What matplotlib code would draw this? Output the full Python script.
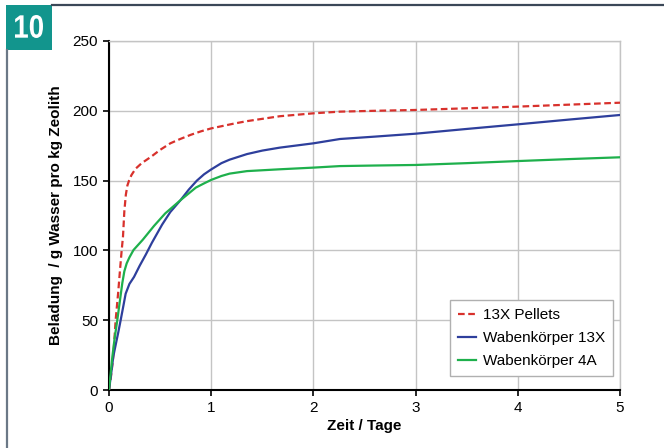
import matplotlib
matplotlib.use('Agg')
import matplotlib.pyplot as plt
from matplotlib.patches import Rectangle, PathPatch
from matplotlib.lines import Line2D
from matplotlib.textpath import TextPath
from matplotlib.font_manager import FontProperties
from matplotlib.transforms import Affine2D, IdentityTransform

plt.rcParams['font.family'] = ['Liberation Sans', 'DejaVu Sans']

# values (Zeit in Tagen, Beladung in g/kg)
pellets_t = [0, 0.02, 0.042, 0.065, 0.09, 0.11, 0.124, 0.137, 0.15, 0.165, 0.18, 0.196,
             0.22, 0.26, 0.32, 0.41, 0.50, 0.60, 0.69, 0.80, 0.90, 1.0, 1.22, 1.35, 1.67,
             2.0, 2.26, 2.6, 3.0, 3.5, 4.0, 4.5, 5.0]
pellets = [0, 10, 24, 50, 70, 88, 100, 110, 128, 140, 146.5, 150,
           154, 158.5, 162.5, 167, 172, 176.7, 179.6, 182.8, 185.3, 187.4, 190.8, 192.6, 196.1,
           198.2, 199.4, 200, 200.6, 201.8, 203, 204.4, 205.8]

waben13x_t = [0, 0.02, 0.042, 0.07, 0.09, 0.114, 0.14, 0.163, 0.2, 0.245, 0.30, 0.36, 0.42,
              0.52, 0.60, 0.70, 0.78, 0.86, 0.93, 1.0, 1.1, 1.18, 1.35, 1.5, 1.67, 2.0, 2.26,
              2.6, 3.0, 3.5, 4.0, 4.5, 5.0]
waben13x = [0, 11, 24, 34, 41, 50, 60, 69, 76, 81, 89, 97, 105.5,
            118.5, 127.5, 136, 143.5, 150, 154.5, 158, 162.5, 165, 169, 171.5, 173.6, 176.7,
            179.8, 181.5, 183.6, 187, 190.3, 193.7, 197]

waben4a_t = [0, 0.015, 0.033, 0.055, 0.081, 0.105, 0.13, 0.15, 0.173, 0.2, 0.24, 0.33, 0.44,
             0.55, 0.70, 0.85, 0.93, 1.0, 1.1, 1.18, 1.35, 1.67, 2.0, 2.26, 2.6, 3.0, 3.5,
             4.0, 4.5, 5.0]
waben4a = [0, 11, 24, 37, 50, 63, 76.5, 85, 90.7, 95, 100.3, 107.6, 117.5,
           126.5, 136, 145, 148, 150.5, 153.3, 155, 156.8, 158.1, 159.3, 160.4, 160.8, 161.2,
           162.5, 164, 165.4, 166.7]

labels = ['13X Pellets', 'Wabenkörper 13X', 'Wabenkörper 4A']
x_ticks = [0, 1, 2, 3, 4, 5]
y_ticks = [0, 50, 100, 150, 200, 250]
badge = '10'

RED = '#d8312c'
BLUE = '#2e3f9c'
GREEN = '#1eb04c'
TEAL = '#12958d'

W, H = 664, 448
fig = plt.figure(figsize=(W / 100, H / 100), dpi=100)
ax = fig.add_axes([109 / W, 1 - 390 / H, (620 - 109) / W, (390 - 41) / H])

ax.plot(pellets_t, pellets, color=RED, lw=1.6, ls=(0, (3, 1.6)), label=labels[0], zorder=3)
ax.plot(waben13x_t, waben13x, color=BLUE, lw=1.6, label=labels[1], zorder=3)
ax.plot(waben4a_t, waben4a, color=GREEN, lw=1.6, label=labels[2], zorder=3)

ax.set_xlim(0, 5)
ax.set_ylim(0, 250)
ax.set_xticks(x_ticks)
ax.set_yticks(y_ticks)
ax.grid(True, color='#c4c4c4', lw=1.0)
ax.set_axisbelow(True)

for side in ('top', 'right'):
    ax.spines[side].set_color('#c4c4c4')
    ax.spines[side].set_linewidth(1.0)
for side in ('left', 'bottom'):
    ax.spines[side].set_color('black')
    ax.spines[side].set_linewidth(1.5)

ax.tick_params(direction='out', length=4, width=1.2, labelsize=11, pad=4)
ax.set_xlabel('Zeit / Tage', fontsize=11, fontweight='bold', labelpad=3)
ax.set_ylabel('Beladung  / g Wasser pro kg Zeolith', fontsize=11, fontweight='bold', labelpad=7)

leg = ax.legend(loc='lower right', bbox_to_anchor=(0.986, 0.04), fontsize=11,
                frameon=True, fancybox=False, edgecolor='#b0b0b0', framealpha=1,
                handlelength=1.2, handletextpad=0.45, borderpad=0.5, labelspacing=0.6,
                borderaxespad=0)
leg.get_frame().set_linewidth(1.0)

# page frame lines and the figure number badge
fig.add_artist(Line2D([52 / W, 1], [1 - 5 / H, 1 - 5 / H], color='#3b4858', lw=1.6))
fig.add_artist(Line2D([7 / W, 7 / W], [0, 1 - 50 / H], color='#6b7886', lw=1.6))
fig.add_artist(Rectangle((6 / W, 1 - 50 / H), 46 / W, 45 / H,
                         transform=fig.transFigure, color=TEAL, lw=0))

# condensed "10": squeeze a bold text path into the box it fills in the reference
tp = TextPath((0, 0), badge, size=1, prop=FontProperties(family='Liberation Sans', weight='bold'))
ext = tp.get_extents()
x0, x1, ytop, ybot = 15, 43, 15, 38
sx = (x1 - x0) / ext.width
sy = (ybot - ytop) / ext.height
tr = Affine2D().translate(-ext.x0, -ext.y0).scale(sx, sy).translate(x0, H - ybot)
fig.add_artist(PathPatch(tr.transform_path(tp), transform=IdentityTransform(),
                         facecolor='white', edgecolor='none'))

fig.savefig('out.png', dpi=100)
